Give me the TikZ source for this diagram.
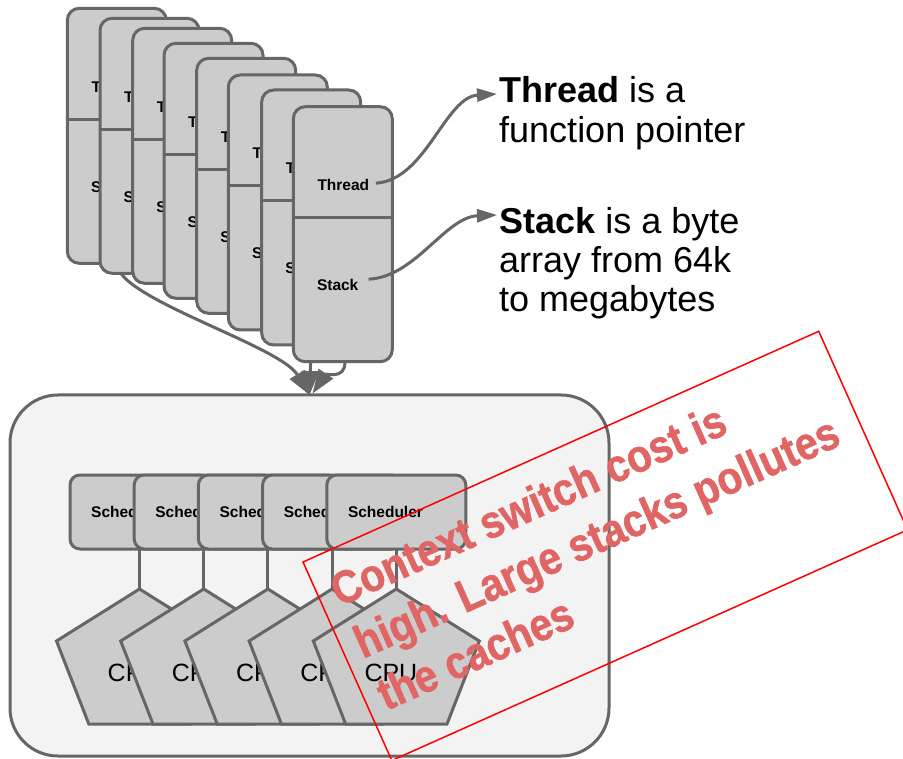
\documentclass[tikz,border=0pt]{standalone}
\usepackage{fontspec}
\setmainfont{Liberation Sans}
\newfontfamily\notefont{Liberation Sans}[FakeStretch=0.88, BoldFeatures={FakeBold=1.2}]
\usetikzlibrary{arrows.meta}
\pgfdeclarelayer{background}
\pgfsetlayers{background,main}
\definecolor{edgegray}{HTML}{666666}
\definecolor{boxgray}{HTML}{CCCCCC}
\definecolor{panelgray}{HTML}{F3F3F3}
\definecolor{notered}{HTML}{E06666}
\tikzset{
  cardbox/.style={draw=edgegray, fill=boxgray, line width=3pt, rounded corners=12pt, minimum width=99pt, minimum height=255pt, inner sep=0pt, outer sep=0pt, anchor=north west},
  cardlabel/.style={font=\bfseries\fontsize{15.5}{18}\selectfont, inner sep=0pt, anchor=base west},
  divider/.style={draw=edgegray, line width=3pt},
  hostbox/.style={draw=edgegray, fill=panelgray, line width=3pt, rounded corners=48pt, minimum width=599pt, minimum height=361pt, inner sep=0pt, outer sep=0pt, anchor=north west},
  schedbox/.style={draw=edgegray, fill=boxgray, line width=3pt, rounded corners=10pt, minimum width=139pt, minimum height=74pt, inner sep=0pt, outer sep=0pt, anchor=north west},
  schedlabel/.style={font=\bfseries\fontsize{15.5}{18}\selectfont, inner sep=0pt, anchor=base west},
  link/.style={draw=edgegray, line width=3pt},
  pentagon/.style={draw=edgegray, fill=boxgray, line width=3pt, line join=miter},
  cpulabel/.style={font=\fontsize{25}{30}\selectfont, inner sep=0pt, anchor=base west},
  bigtext/.style={font=\fontsize{36}{40}\selectfont, inner sep=0pt, anchor=base west},
  pointer/.style={draw=edgegray, line width=3pt, -{Triangle[length=20pt,width=13pt]}},
  feed/.style={draw=edgegray, line width=3pt, -{Triangle[length=24pt,width=17pt]}},
  warnbox/.style={draw=red, line width=1.5pt, minimum width=565pt, minimum height=217.5pt, inner sep=0pt, outer sep=0pt, anchor=north west, rotate=24.1},
  warntext/.style={text=notered, font=\notefont\bfseries\fontsize{46}{52}\selectfont, inner sep=0pt, anchor=base west, rotate=24.1},
}
\begin{document}
\begin{tikzpicture}[x=1pt,y=-1pt]
\begin{pgfonlayer}{background}
\fill[white] (0,0) rectangle (903,759);
\node[hostbox] (host) at (10,395) {};
\end{pgfonlayer}
\path[use as bounding box] (0,0) rectangle (903,759);

% schedulers
\foreach \l [count=\i] in {70,134.2,198.4,262.6,326.8} {
  \node[schedbox] (sch\i) at (\l,475) {};
  \node[schedlabel] (sl\i) at ({\l+21},517.5) {Scheduler};
}
\foreach \l [count=\i] in {70,134.2,198.4,262.6,326.8} {
  \coordinate (p\i) at ({\l+69.5},589);
  \draw[link] (sch\i.south) -- (p\i);
}
\foreach \i in {1,...,5} {
  \draw[pentagon] (p\i) -- ++(83,52) -- ++(-32.3,83) -- ++(-101.4,0) -- ++(-32.3,-83) -- cycle;
  \node[cpulabel] (cpu\i) at ([xshift=-32pt,yshift=-92.7pt]p\i) {CPU};
}

% thread cards
\foreach \l/\t [count=\i] in {67.3/8.3,100/18.3,132.7/28.3,164/43.3,196.7/58.3,228.3/75,261.7/90,293.3/106.7} {
  \node[cardbox] (c\i) at (\l,\t) {};
  \draw[divider] (\l,{\t+111}) -- ({\l+99},{\t+111});
  \node[cardlabel] (th\i) at ({\l+24},{\t+84}) {Thread};
  \node[cardlabel] (st\i) at ({\l+23.5},{\t+184}) {Stack};
}

\begin{pgfonlayer}{background}
\coordinate (hookend) at ([xshift=3pt,yshift=1.5pt]host.north);
\draw[feed] (c1.south) .. controls +(0,35) and +(-30,-50) .. (host.north);
\draw[feed] (c7.south) -- (host.north);
\draw[feed] ([xshift=2pt]c8.south) .. controls +(1,18) and +(13.5,-20) .. (hookend);
\end{pgfonlayer}

% right side texts
\node[bigtext] (t1a) at (499,103) {\textbf{Thread} is a};
\node[bigtext] (t1b) at (499,143) {function pointer};
\node[bigtext] (s1a) at (499,234) {\textbf{Stack} is a byte};
\node[bigtext] (s1b) at (499,273) {array from 64k};
\node[bigtext] (s1c) at (499,312) {to megabytes};

\draw[pointer] ([xshift=6.5pt,yshift=2pt]th8.east) .. controls +(50,-3) and +(-52,3) .. ([xshift=-2pt,yshift=9pt]t1a.base west);
\draw[pointer] ([xshift=10pt,yshift=6pt]st8.east) .. controls +(47,-2) and +(-52,2) .. ([xshift=-2pt,yshift=19pt]s1a.base west);

% warning note
\node[warnbox] (warn) at (303,562) {};
\begin{scope}[shift={(303,562)}, rotate=24.1]
  \node[warntext] (w1) at (15,56) {Context switch cost is};
  \node[warntext] (w2) at (15,113) {high. Large stacks pollutes};
  \node[warntext] (w3) at (15,170) {the caches};
\end{scope}
\end{tikzpicture}
\end{document}
